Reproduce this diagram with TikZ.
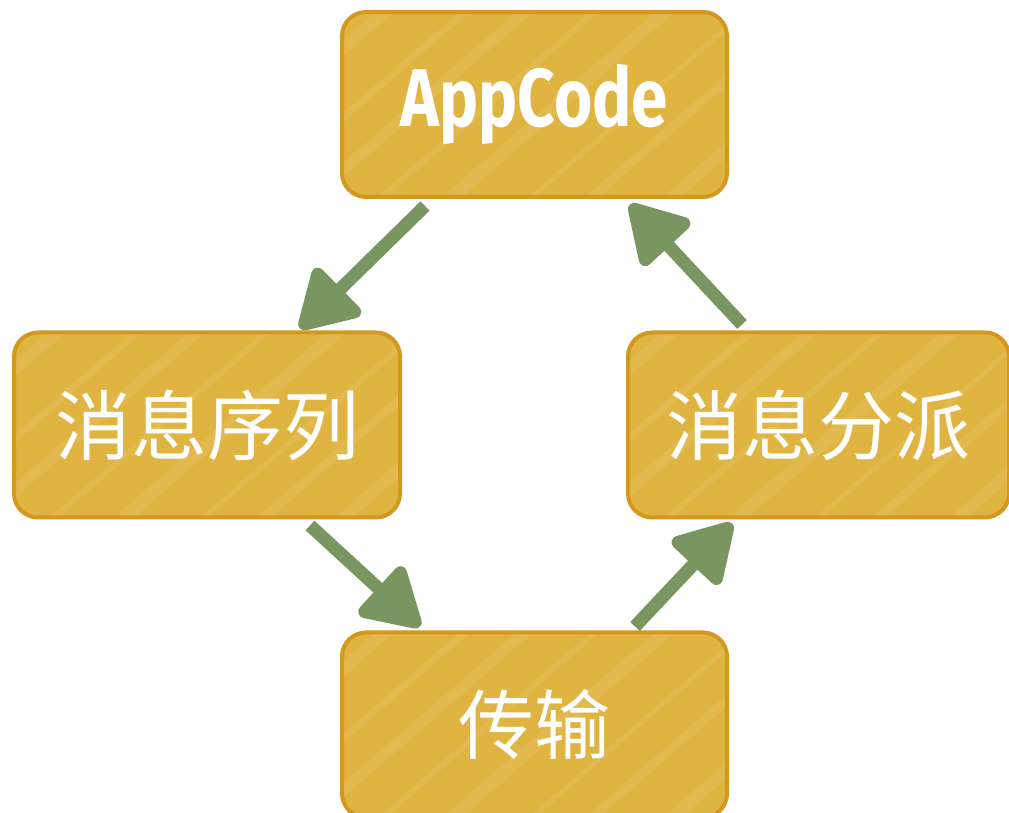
\documentclass[tikz,border=0pt]{standalone}
\usepackage{fontspec}
\newfontfamily\cjk{Noto Sans CJK SC}
\newfontfamily\appfont[FakeStretch=0.8]{Fira Sans}
\usetikzlibrary{arrows.meta}
\definecolor{boxfill}{HTML}{E0B440}
\definecolor{boxline}{HTML}{D4981F}
\definecolor{arrgreen}{HTML}{7A9660}
\tikzset{
  box/.style={draw=boxline, line width=4pt, fill=boxfill, rounded corners=24pt,
    minimum width=#1, minimum height=185pt, inner sep=0pt, text=white,
    path picture={
      \foreach \i/\w in {-420/14,-350/6,-300/10,-220/5,-170/12,-90/7,-30/11,40/6,110/13,190/5,250/9,330/12,400/6,460/10}{
        \draw[white, opacity=0.08, line width=\w pt]
          ([xshift=\i pt]path picture bounding box.south west) -- ++(230pt,200pt);
      }
    }},
  box/.default=385pt,
  flow/.style={draw=arrgreen, line width=13pt,
    -{Triangle[length=64pt,width=72pt,round=false]}, arrgreen},
}
\begin{document}
\begin{tikzpicture}[x=1pt,y=1pt]
\useasboundingbox (0,0) rectangle (1009,813);
\node[box=385pt] (app) at (534.5,708.5) {\raisebox{-6pt}{\appfont\bfseries\fontsize{82}{88}\selectfont AppCode}};
\node[box=386pt] (seq) at (207,388) {\cjk\fontsize{76}{80}\selectfont 消息序列};
\node[box=381pt] (disp) at (818.5,388) {\cjk\fontsize{76}{80}\selectfont 消息分派};
\node[box=385pt] (trans) at (534.5,88) {\cjk\fontsize{76}{80}\selectfont 传输};
\draw[flow] ([xshift=-109.5pt,yshift=-7pt]app.south) -- ([xshift=93pt,yshift=2pt]seq.north);
\draw[flow] ([xshift=103pt,yshift=-6pt]seq.south) -- ([xshift=-114.5pt,yshift=4pt]trans.north);
\draw[flow] ([xshift=100.5pt,yshift=4pt]trans.north) -- ([xshift=-86.5pt,yshift=-4pt]disp.south);
\draw[flow] ([xshift=-76.5pt,yshift=6pt]disp.north) -- ([xshift=95.5pt,yshift=-5.5pt]app.south);
\end{tikzpicture}
\end{document}
